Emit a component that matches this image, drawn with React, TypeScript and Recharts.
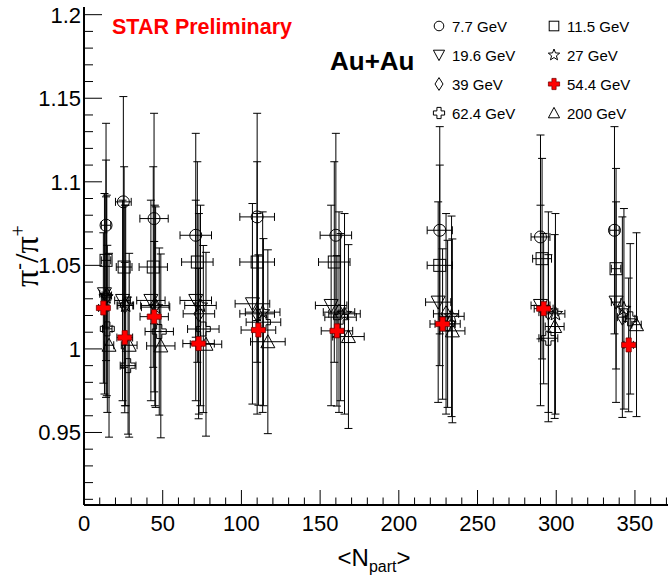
import { ScatterChart, Scatter, XAxis, YAxis, ErrorBar } from "recharts"

// <Npart> and pi-/pi+ ratio per beam energy, peripheral -> central
const NPART_7_7 = [14, 25, 44.5, 71, 110, 160, 226, 290, 337]
const RATIO_7_7 = [1.074, 1.088, 1.078, 1.068, 1.079, 1.068, 1.071, 1.067, 1.071]
const ERR_7_7 = [0.061, 0.063, 0.063, 0.061, 0.062, 0.061, 0.062, 0.061, 0.062]

const NPART_11_5 = [14, 25.5, 44, 72, 110, 159, 226, 291, 338]
const RATIO_11_5 = [1.053, 1.049, 1.049, 1.052, 1.052, 1.052, 1.05, 1.054, 1.048]
const ERR_11_5 = [0.06, 0.06, 0.06, 0.06, 0.06, 0.06, 0.06, 0.06, 0.06]

const NPART_19_6 = [13, 24.5, 42.5, 71, 107, 157, 225, 290, 338]
const RATIO_19_6 = [1.033, 1.029, 1.029, 1.029, 1.027, 1.026, 1.028, 1.026, 1.028]
const ERR_19_6 = [0.06, 0.06, 0.06, 0.06, 0.06, 0.06, 0.06, 0.06, 0.06]

const NPART_27 = [14, 26.5, 45.5, 74, 113.5, 165.5, 233.5, 299.5, 343]
const RATIO_27 = [1.031, 1.026, 1.025, 1.026, 1.022, 1.021, 1.0195, 1.021, 1.024]
const ERR_27 = [0.06, 0.06, 0.06, 0.06, 0.06, 0.06, 0.06, 0.06, 0.06]

const NPART_39 = [14.5, 26, 45, 73, 110, 162, 230, 295, 342]
const RATIO_39 = [1.032, 1.026, 1.026, 1.021, 1.021, 1.022, 1.021, 1.022, 1.019]
const ERR_39 = [0.06, 0.06, 0.06, 0.06, 0.06, 0.06, 0.06, 0.06, 0.06]

const NPART_54_4 = [12.3, 25.9, 44.6, 72.8, 110.8, 160.7, 227.8, 292, 346]
const RATIO_54_4 = [1.0245, 1.0068, 1.0193, 1.0032, 1.0113, 1.0108, 1.0149, 1.0241, 1.0024]
const ERR_54_4 = [0.045, 0.045, 0.045, 0.045, 0.045, 0.045, 0.045, 0.045, 0.04]

const NPART_62_4 = [14.8, 28, 47.8, 75.8, 114, 163, 231, 295, 347]
const RATIO_62_4 = [1.012, 0.99, 1.0104, 1.0119, 1.016, 1.019, 1.015, 1.0064, 1.018]
const ERR_62_4 = [0.05, 0.041, 0.05, 0.05, 0.05, 0.05, 0.05, 0.05, 0.045]

const NPART_200 = [15.9, 28.7, 48.8, 77.5, 116.8, 168, 234, 299, 351]
const RATIO_200 = [1.0022, 1.0022, 1.0018, 1.0028, 1.0043, 1.0074, 1.0108, 1.0134, 1.0145]
const ERR_200 = [0.055, 0.055, 0.055, 0.055, 0.055, 0.055, 0.055, 0.055, 0.055]

// horizontal <Npart> uncertainty per centrality bin
const NPART_ERR = [3, 5, 9, 10, 11, 10, 8, 6, 3]

const X_MAJOR = [0, 50, 100, 150, 200, 250, 300, 350]
const X_MINOR = [10, 20, 30, 40, 60, 70, 80, 90, 110, 120, 130, 140, 160, 170, 180, 190, 210, 220, 230, 240, 260, 270, 280, 290, 310, 320, 330, 340, 360, 370]
const Y_MAJOR = [0.95, 1, 1.05, 1.1, 1.15, 1.2]
const Y_MAJOR_LABELS = ["0.95", "1", "1.05", "1.1", "1.15", "1.2"]
const Y_MINOR = [0.91, 0.92, 0.93, 0.94, 0.96, 0.97, 0.98, 0.99, 1.01, 1.02, 1.03, 1.04, 1.06, 1.07, 1.08, 1.09, 1.11, 1.12, 1.13, 1.14, 1.16, 1.17, 1.18, 1.19]

const X_DOMAIN = [0, 371]
const Y_DOMAIN = [0.9066, 1.2046]

const FONT = "'Liberation Sans', Arial, Helvetica, sans-serif"

type MarkerKind = "circle" | "square" | "tdown" | "star" | "diamond" | "redcross" | "cross" | "tup"

const build = (xs: number[], ys: number[], es: number[]) =>
  xs.map((x, i) => ({ x, y: ys[i], xErr: NPART_ERR[i], yErr: es[i] }))

const SERIES: { name: string; marker: MarkerKind; data: ReturnType<typeof build> }[] = [
  { name: "7.7 GeV", marker: "circle", data: build(NPART_7_7, RATIO_7_7, ERR_7_7) },
  { name: "11.5 GeV", marker: "square", data: build(NPART_11_5, RATIO_11_5, ERR_11_5) },
  { name: "19.6 GeV", marker: "tdown", data: build(NPART_19_6, RATIO_19_6, ERR_19_6) },
  { name: "27 GeV", marker: "star", data: build(NPART_27, RATIO_27, ERR_27) },
  { name: "39 GeV", marker: "diamond", data: build(NPART_39, RATIO_39, ERR_39) },
  { name: "62.4 GeV", marker: "cross", data: build(NPART_62_4, RATIO_62_4, ERR_62_4) },
  { name: "200 GeV", marker: "tup", data: build(NPART_200, RATIO_200, ERR_200) },
  { name: "54.4 GeV", marker: "redcross", data: build(NPART_54_4, RATIO_54_4, ERR_54_4) },
]

// legend order (two columns, row by row)
const LEGEND: { name: string; marker: MarkerKind }[] = [
  { name: "7.7 GeV", marker: "circle" },
  { name: "11.5 GeV", marker: "square" },
  { name: "19.6 GeV", marker: "tdown" },
  { name: "27 GeV", marker: "star" },
  { name: "39 GeV", marker: "diamond" },
  { name: "54.4 GeV", marker: "redcross" },
  { name: "62.4 GeV", marker: "cross" },
  { name: "200 GeV", marker: "tup" },
]

function Marker({ kind, cx, cy, s = 1 }: { kind: MarkerKind; cx: number; cy: number; s?: number }) {
  const st = { fill: "none", stroke: "#000", strokeWidth: 1 }
  if (kind === "circle") return <circle cx={cx} cy={cy} r={6 * s} {...st} />
  if (kind === "square") return <rect x={cx - 6 * s} y={cy - 6 * s} width={12 * s} height={12 * s} {...st} />
  if (kind === "tdown" || kind === "tup") {
    const d = kind === "tup" ? 1 : -1
    const pts = [
      [cx - 7 * s, cy + 6 * s * d],
      [cx + 7 * s, cy + 6 * s * d],
      [cx, cy - 7 * s * d],
    ]
    return <polygon points={pts.map((p) => p.join(",")).join(" ")} {...st} />
  }
  if (kind === "diamond") {
    const pts = [
      [cx, cy - 8 * s],
      [cx + 5 * s, cy],
      [cx, cy + 8 * s],
      [cx - 5 * s, cy],
    ]
    return <polygon points={pts.map((p) => p.join(",")).join(" ")} {...st} />
  }
  if (kind === "star") {
    const pts: string[] = []
    for (let k = 0; k < 10; k++) {
      const r = (k % 2 === 0 ? 7.5 : 3.2) * s
      const a = -Math.PI / 2 + (k * Math.PI) / 5
      pts.push(`${cx + r * Math.cos(a)},${cy + r * Math.sin(a)}`)
    }
    return <polygon points={pts.join(" ")} {...st} />
  }
  // plus-shaped cross
  const a = 2.6 * s
  const L = 7 * s
  const pts = [
    [cx - a, cy - L], [cx + a, cy - L], [cx + a, cy - a], [cx + L, cy - a],
    [cx + L, cy + a], [cx + a, cy + a], [cx + a, cy + L], [cx - a, cy + L],
    [cx - a, cy + a], [cx - L, cy + a], [cx - L, cy - a], [cx - a, cy - a],
  ]
  const red = kind === "redcross"
  return (
    <polygon
      points={pts.map((p) => p.join(",")).join(" ")}
      fill={red ? "#ff0000" : "none"}
      stroke={red ? "#7a0000" : "#000"}
      strokeWidth={red ? 0.8 : 1}
    />
  )
}

function XTick(props: any) {
  const { x, y, payload } = props
  const i = X_MAJOR.indexOf(payload.value)
  const major = i >= 0
  return (
    <g>
      <line x1={x} x2={x} y1={y} y2={y - (major ? 15 : 7.5)} stroke="#000" strokeWidth={1} />
      {major && (
        <text x={x} y={y + 26} textAnchor="middle" fontFamily={FONT} fontSize={22} fill="#000">
          {String(X_MAJOR[i])}
        </text>
      )}
    </g>
  )
}

function YTick(props: any) {
  const { x, y, payload } = props
  const i = Y_MAJOR.indexOf(payload.value)
  const major = i >= 0
  return (
    <g>
      <line x1={x} x2={x + (major ? 18 : 9)} y1={y} y2={y} stroke="#000" strokeWidth={1} />
      {major && (
        <text x={x - 3} y={y + 8} textAnchor="end" fontFamily={FONT} fontSize={22} fill="#000">
          {Y_MAJOR_LABELS[i]}
        </text>
      )}
    </g>
  )
}

export default function App() {
  return (
    <div style={{ position: "absolute", left: 0, top: 0, width: 668, height: 579, background: "#fff" }}>
      <ScatterChart width={668} height={579} margin={{ top: 7, right: 0, bottom: 0, left: 0 }}>
        <XAxis
          xAxisId="top"
          orientation="top"
          type="number"
          dataKey="x"
          domain={X_DOMAIN}
          allowDataOverflow
          height={0}
          tick={false}
          tickLine={false}
          axisLine={{ stroke: "#000", strokeWidth: 2 }}
        />
        <XAxis
          type="number"
          dataKey="x"
          domain={X_DOMAIN}
          allowDataOverflow
          ticks={[...X_MAJOR, ...X_MINOR]}
          interval={0}
          height={74}
          tickSize={0}
          tickMargin={0}
          tickLine={false}
          tick={<XTick />}
          axisLine={{ stroke: "#000", strokeWidth: 2 }}
        />
        <YAxis
          type="number"
          dataKey="y"
          domain={Y_DOMAIN}
          allowDataOverflow
          ticks={[...Y_MAJOR, ...Y_MINOR]}
          interval={0}
          width={84}
          tickSize={0}
          tickMargin={0}
          tickLine={false}
          tick={<YTick />}
          axisLine={{ stroke: "#000", strokeWidth: 2 }}
        />
        {SERIES.map((s) => (
          <Scatter
            key={s.name}
            name={s.name}
            data={s.data}
            isAnimationActive={false}
            shape={(p: any) => <Marker kind={s.marker} cx={p.cx} cy={p.cy} />}
          >
            <ErrorBar dataKey="xErr" direction="x" width={4} stroke="#000" strokeWidth={1} />
            <ErrorBar dataKey="yErr" direction="y" width={4} stroke="#000" strokeWidth={1} />
          </Scatter>
        ))}
      </ScatterChart>

      <svg width={668} height={579} style={{ position: "absolute", left: 0, top: 0, pointerEvents: "none" }}>
        <text x={112} y={34} fontFamily={FONT} fontWeight="bold" fontSize={21.5} fill="#ff0000">
          STAR Preliminary
        </text>
        <text x={330} y={70} fontFamily={FONT} fontWeight="bold" fontSize={26} fill="#000">
          Au+Au
        </text>
        {LEGEND.map((l, i) => {
          const col = i % 2
          const row = Math.floor(i / 2)
          const mx = col === 0 ? 439 : 554
          const cy = 26 + row * 29
          return (
            <g key={l.name}>
              <Marker kind={l.marker} cx={mx} cy={cy} s={0.8} />
              <text x={mx + 13} y={cy + 5.5} fontFamily={FONT} fontSize={15} fill="#000">
                {l.name}
              </text>
            </g>
          )
        })}
        <text transform="translate(38, 256) rotate(-90)" textAnchor="middle" fontFamily="'Liberation Serif', 'DejaVu Serif', serif" fontSize={34} fill="#000">
          π<tspan dy={-13} fontSize={20}>-</tspan>
          <tspan dy={13}>/π</tspan>
          <tspan dy={-13} fontSize={20}>+</tspan>
        </text>
        <text x={374} y={566} textAnchor="middle" fontFamily={FONT} fontSize={24} fill="#000">
          &lt;N<tspan dy={6} fontSize={16}>part</tspan>
          <tspan dy={-6}>&gt;</tspan>
        </text>
      </svg>
    </div>
  )
}
